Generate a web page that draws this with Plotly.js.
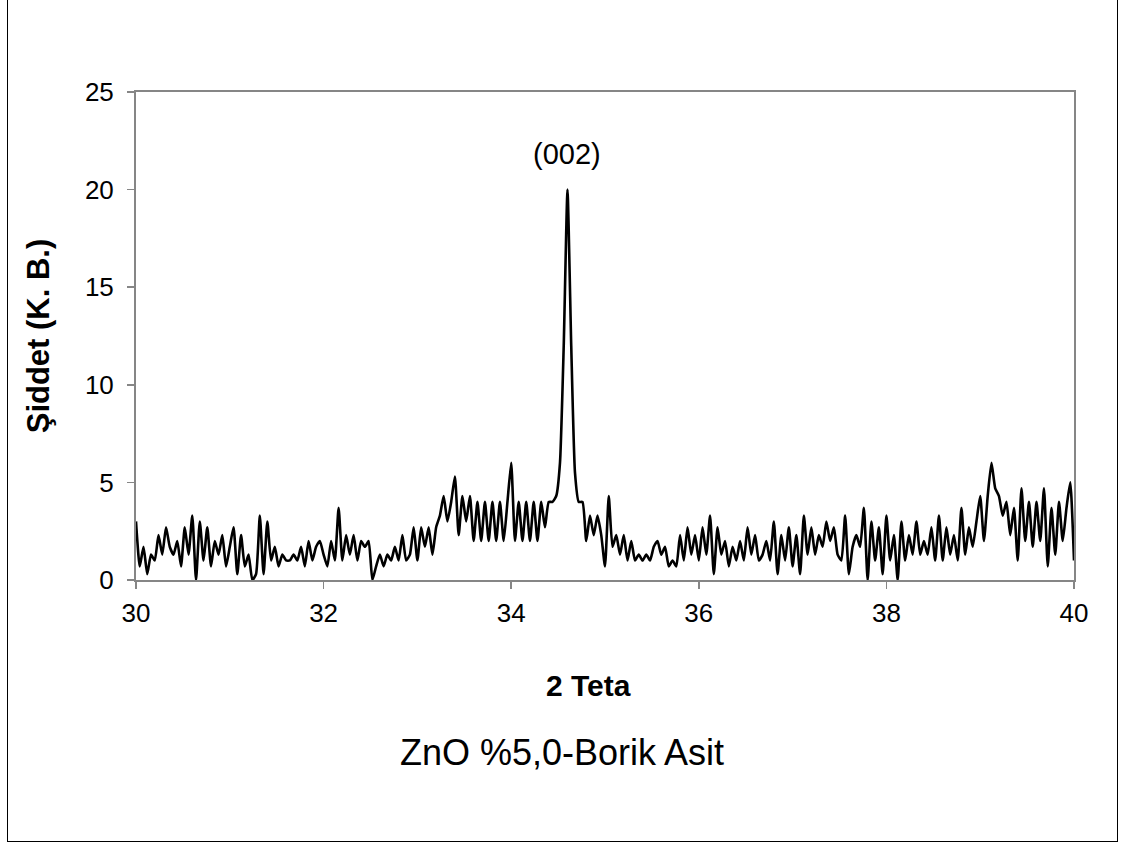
<!DOCTYPE html>
<html>
<head>
<meta charset="utf-8">
<script src="https://cdn.plot.ly/plotly-3.0.1.min.js"></script>
<style>
  html, body { margin: 0; padding: 0; background: #ffffff; }
  #wrap { position: relative; width: 1125px; height: 847px; overflow: hidden; }
  #chart { width: 1125px; height: 847px; }
  #frame { position: absolute; left: 7px; top: -2px; width: 1111px; height: 844px;
           box-sizing: border-box; border: 1px solid #000; pointer-events: none; }
</style>
</head>
<body>
<div id="wrap">
  <div id="chart"></div>
  <div id="frame"></div>
</div>
<script>
// 2-theta measurement grid (degrees)
const twoTheta = [
  30.00,30.04,30.08,30.12,30.16,30.20,30.24,30.28,30.32,30.36,30.40,30.44,30.48,30.52,30.56,30.60,30.64,30.68,30.72,30.76,30.80,30.84,30.88,30.92,30.96,
  31.00,31.04,31.08,31.12,31.16,31.20,31.24,31.28,31.32,31.36,31.40,31.44,31.48,31.52,31.56,31.60,31.64,31.68,31.72,31.76,31.80,31.84,31.88,31.92,31.96,
  32.00,32.04,32.08,32.12,32.16,32.20,32.24,32.28,32.32,32.36,32.40,32.44,32.48,32.52,32.56,32.60,32.64,32.68,32.72,32.76,32.80,32.84,32.88,32.92,32.96,
  33.00,33.04,33.08,33.12,33.16,33.20,33.24,33.28,33.32,33.36,33.40,33.44,33.48,33.52,33.56,33.60,33.64,33.68,33.72,33.76,33.80,33.84,33.88,33.92,33.96,
  34.00,34.04,34.08,34.12,34.16,34.20,34.24,34.28,34.32,34.36,34.40,34.44,34.48,34.52,34.56,34.60,34.64,34.68,34.72,34.76,34.80,34.84,34.88,34.92,34.96,
  35.00,35.04,35.08,35.12,35.16,35.20,35.24,35.28,35.32,35.36,35.40,35.44,35.48,35.52,35.56,35.60,35.64,35.68,35.72,35.76,35.80,35.84,35.88,35.92,35.96,
  36.00,36.04,36.08,36.12,36.16,36.20,36.24,36.28,36.32,36.36,36.40,36.44,36.48,36.52,36.56,36.60,36.64,36.68,36.72,36.76,36.80,36.84,36.88,36.92,36.96,
  37.00,37.04,37.08,37.12,37.16,37.20,37.24,37.28,37.32,37.36,37.40,37.44,37.48,37.52,37.56,37.60,37.64,37.68,37.72,37.76,37.80,37.84,37.88,37.92,37.96,
  38.00,38.04,38.08,38.12,38.16,38.20,38.24,38.28,38.32,38.36,38.40,38.44,38.48,38.52,38.56,38.60,38.64,38.68,38.72,38.76,38.80,38.84,38.88,38.92,38.96,
  39.00,39.04,39.08,39.12,39.16,39.20,39.24,39.28,39.32,39.36,39.40,39.44,39.48,39.52,39.56,39.60,39.64,39.68,39.72,39.76,39.80,39.84,39.88,39.92,39.96,
  40.00
];

// Intensity (a.u.)
const intensity = [
  3.0,0.7,1.7,0.3,1.3,1.0,2.3,1.3,2.7,1.7,1.3,2.0,0.7,2.7,1.3,3.3,0.0,3.0,1.0,2.7,0.7,2.0,1.3,2.3,0.7,
  1.7,2.7,0.3,2.3,0.7,1.3,0.0,0.3,3.3,0.3,3.0,1.0,1.7,0.7,1.3,1.0,1.0,1.3,1.0,1.7,0.7,2.0,1.0,1.7,2.0,
  1.3,0.7,2.0,1.0,3.7,1.0,2.3,1.3,2.3,1.0,2.0,1.7,2.0,0.0,0.7,1.3,0.7,1.3,1.0,1.7,1.0,2.3,1.0,1.3,2.7,
  1.0,2.7,1.7,2.7,1.3,2.7,3.3,4.3,3.0,4.0,5.3,2.3,4.3,3.0,4.3,2.0,4.0,2.0,4.0,2.0,4.0,2.0,4.0,2.0,4.0,
  6.0,2.0,4.0,2.0,4.0,2.0,4.0,2.0,4.0,2.7,4.0,4.0,4.3,6.0,12.0,20.0,12.0,5.5,4.0,4.0,2.0,3.3,2.3,3.3,2.3,
  0.7,4.3,1.7,2.3,1.3,2.3,1.0,2.0,1.0,1.3,1.0,1.3,1.0,1.7,2.0,1.3,1.7,0.7,1.0,0.7,2.3,1.0,2.7,1.3,2.3,
  1.0,2.7,1.3,3.3,0.3,2.7,1.3,2.0,0.7,1.7,1.0,2.0,1.0,2.7,1.3,2.3,1.0,1.3,2.0,1.0,3.0,0.3,2.3,1.0,2.7,
  0.7,2.3,0.3,3.3,1.3,2.7,1.3,2.3,1.7,3.0,2.0,2.7,1.3,1.0,3.3,0.3,1.7,2.3,1.7,3.7,0.0,3.0,1.0,2.7,0.3,
  3.3,1.0,2.3,0.0,3.0,1.0,2.3,1.3,3.0,1.3,2.0,1.3,2.7,1.0,3.3,1.0,2.7,1.3,2.3,1.0,3.7,1.3,2.7,1.7,3.0,
  4.3,2.0,4.3,6.0,4.7,4.3,3.3,4.0,2.3,3.7,1.0,4.7,2.0,4.0,1.7,4.0,2.0,4.7,0.7,3.7,1.3,4.0,2.0,3.7,5.0,
  1.0
];

const xTicks = [30, 32, 34, 36, 38, 40];
const yTicks = [0, 5, 10, 15, 20, 25];
const peakLabel = "(002)";
const peakPos = [34.6, 21.8];
const xTitle = "2 Teta";
const yTitle = "Şiddet (K. B.)";
const caption = "ZnO %5,0-Borik Asit";

const FONT = "Liberation Sans, Arial, sans-serif";
const AXC = "#868686";

const trace = {
  x: twoTheta, y: intensity, type: "scatter", mode: "lines",
  line: { color: "#000000", width: 2.6, shape: "spline", smoothing: 0.5 },
  hoverinfo: "skip", cliponaxis: true
};

// pixel helpers for placing text outside the plot area
const M = { l: 136, r: 51, t: 92, b: 267 };
const plotW = 1125 - M.l - M.r;
const plotH = 847 - M.t - M.b;
const px2paperX = px => (px - M.l) / plotW;
const px2paperY = py => (847 - M.b - py) / plotH;

const layout = {
  width: 1125, height: 847,
  margin: M,
  paper_bgcolor: "#ffffff", plot_bgcolor: "#ffffff",
  showlegend: false,
  font: { family: FONT, color: "#000000", size: 26 },
  xaxis: {
    range: [30, 40], tickvals: xTicks, ticktext: xTicks.map(String),
    showgrid: false, zeroline: false,
    showline: true, linecolor: AXC, linewidth: 2, mirror: true,
    ticks: "outside", ticklen: 7, tickcolor: AXC, tickwidth: 1.5,
    ticklabelstandoff: 2,
    tickfont: { family: FONT, size: 26, color: "#000" }
  },
  yaxis: {
    range: [0, 25], tickvals: yTicks, ticktext: yTicks.map(String),
    showgrid: false, zeroline: false,
    showline: true, linecolor: AXC, linewidth: 2, mirror: true,
    ticks: "outside", ticklen: 7, tickcolor: AXC, tickwidth: 1.5,
    ticklabelstandoff: 8,
    tickfont: { family: FONT, size: 26, color: "#000" },
    title: { text: "<b>" + yTitle + "</b>", font: { family: FONT, size: 31, color: "#000" }, standoff: 26 }
  },
  annotations: [
    { x: peakPos[0], y: peakPos[1], xref: "x", yref: "y", text: peakLabel, showarrow: false,
      font: { family: FONT, size: 29, color: "#000" }, xanchor: "center", yanchor: "middle" },
    { x: px2paperX(588), y: px2paperY(685), xref: "paper", yref: "paper", text: "<b>" + xTitle + "</b>",
      showarrow: false, font: { family: FONT, size: 30, color: "#000" }, xanchor: "center", yanchor: "middle" },
    { x: px2paperX(562), y: px2paperY(752), xref: "paper", yref: "paper", text: caption, showarrow: false,
      font: { family: FONT, size: 36, color: "#000" }, xanchor: "center", yanchor: "middle" }
  ]
};

Plotly.newPlot("chart", [trace], layout, { displayModeBar: false, staticPlot: true });
</script>
</body>
</html>
